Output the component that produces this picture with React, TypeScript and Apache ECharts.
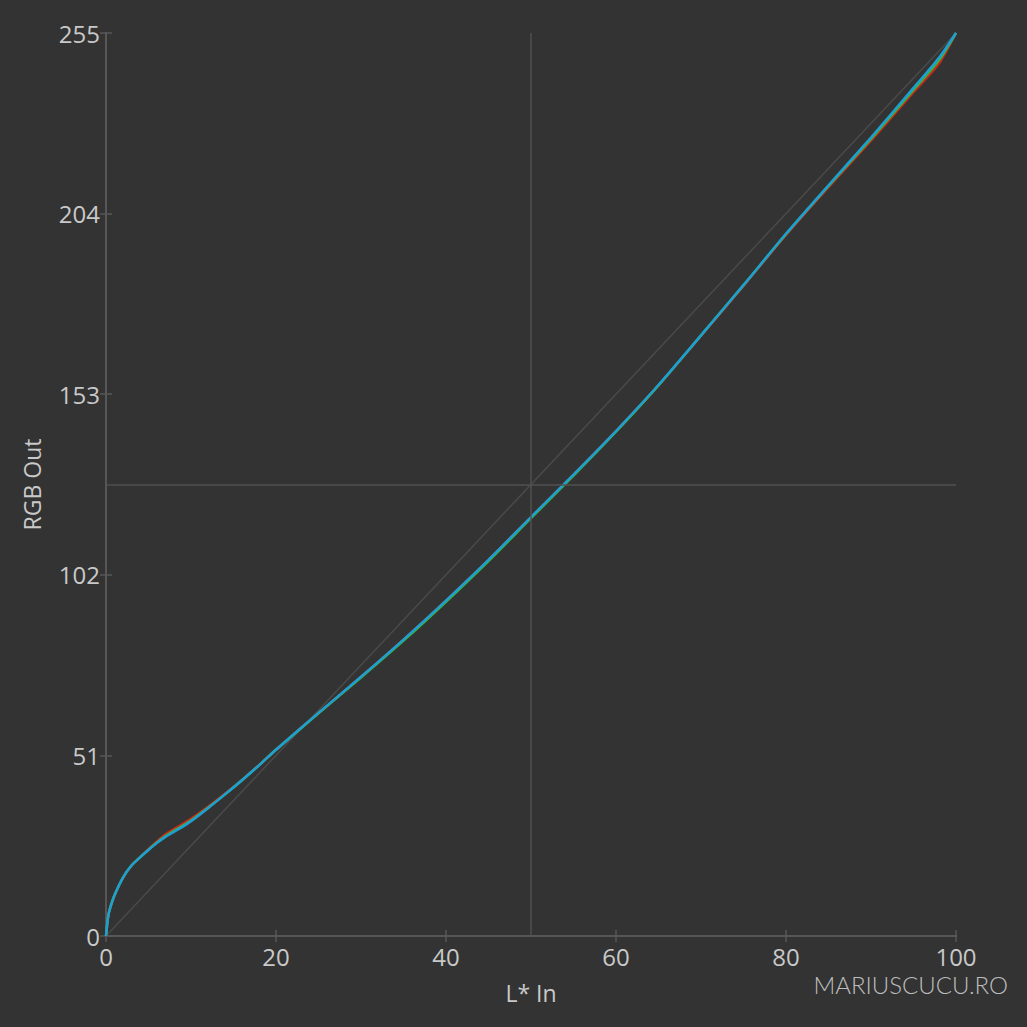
import { useEffect, useRef } from 'react'
import * as echarts from 'echarts'

// L* input values where the curves were read
const lightness = [0, 0.25, 0.5, 1, 2, 3, 4, 5, 6, 7, 8, 9, 10, 12, 14, 16, 18, 20, 25, 30, 35, 40, 45, 50, 55, 60, 65, 70, 75, 80, 85, 90, 95, 98, 100]

// RGB output per channel
const redOut = [0, 5.5, 8, 11.5, 16.5, 19.9, 22.3, 24.5, 26.7, 28.7, 30.2, 31.6, 33.1, 36.5, 40.2, 44.1, 48.3, 52.6, 63, 73.2, 83.7, 94.7, 106.2, 118.3, 130.3, 142.6, 155.5, 169.5, 183.6, 198, 211.5, 224.6, 238.3, 246.4, 255]
const greenOut = [0, 5.5, 8, 11.5, 16.5, 19.9, 22.2, 24.4, 26.4, 28.2, 29.7, 31.1, 32.6, 36.2, 40, 44, 48.2, 52.6, 62.9, 73, 83.4, 94.4, 105.9, 118, 130, 142.4, 155.5, 169.6, 183.8, 198.2, 211.8, 225.1, 238.9, 247.3, 255]
const blueOut = [0, 5.5, 8, 11.5, 16.5, 19.9, 22.2, 24.3, 26.3, 28, 29.4, 30.8, 32.4, 36.1, 40, 44, 48.2, 52.6, 63, 73.2, 83.7, 94.7, 106.2, 118.3, 130.3, 142.6, 155.6, 169.6, 183.8, 198.3, 212, 225.5, 239.5, 248, 255]

const xTicks = [0, 20, 40, 60, 80, 100]
const yTicks = [0, 51, 102, 153, 204, 255]

const BG = '#333333'
const FRAME = '#575757'
const LABEL = '#c9c9c9'

export default function App() {
  const ref = useRef<HTMLDivElement>(null)

  useEffect(() => {
    if (!ref.current) return
    const chart = echarts.init(ref.current, undefined, { renderer: 'svg' })

    const pair = (ys: number[]) => lightness.map((x, i) => [x, ys[i]])
    const labelStyle = { color: LABEL, fontSize: 24, fontFamily: 'Open Sans' }
    const nameStyle = { color: LABEL, fontSize: 23, fontFamily: 'Open Sans' }
    const tickStyle = { show: true, inside: true, length: 6, lineStyle: { color: FRAME, width: 1.5 } }

    const curve = (name: string, ys: number[], color: string, z: number) => ({
      name,
      type: 'line' as const,
      data: pair(ys),
      smooth: 0.25,
      showSymbol: false,
      z,
      lineStyle: { color, width: 2.5 },
    })

    chart.setOption({
      animation: false,
      backgroundColor: BG,
      grid: { left: 106, right: 71, top: 33, bottom: 91 },
      xAxis: [
        {
          type: 'value',
          min: xTicks[0],
          max: xTicks[xTicks.length - 1],
          interval: 20,
          name: 'L* In',
          nameLocation: 'middle',
          nameGap: 45,
          nameTextStyle: nameStyle,
          axisLine: { show: true, lineStyle: { color: FRAME, width: 2 } },
          axisTick: tickStyle,
          axisLabel: { ...labelStyle, margin: 8 },
          splitLine: { show: false },
        },
        {
          type: 'value',
          position: 'top',
          min: 0,
          max: 100,
          interval: 20,
          axisLine: { show: true, lineStyle: { color: FRAME, width: 2 } },
          axisTick: tickStyle,
          axisLabel: { show: false },
          splitLine: { show: false },
        },
      ],
      yAxis: [
        {
          type: 'value',
          min: yTicks[0],
          max: yTicks[yTicks.length - 1],
          interval: 51,
          name: 'RGB Out',
          nameLocation: 'middle',
          nameGap: 63,
          nameTextStyle: nameStyle,
          axisLine: { show: true, lineStyle: { color: FRAME, width: 2 } },
          axisTick: tickStyle,
          axisLabel: { ...labelStyle, margin: 6 },
          splitLine: { show: false },
        },
        {
          type: 'value',
          position: 'right',
          min: 0,
          max: 255,
          interval: 51,
          axisLine: { show: true, lineStyle: { color: FRAME, width: 2 } },
          axisTick: tickStyle,
          axisLabel: { show: false },
          splitLine: { show: false },
        },
      ],
      graphic: [
        {
          type: 'text',
          right: 19,
          top: 972,
          style: {
            text: 'MARIUSCUCU.RO',
            fill: '#bdbdbd',
            font: '300 24px Lato',
          },
        },
      ],
      series: [
        {
          name: 'reference',
          type: 'line',
          data: [[0, 0], [100, 255]],
          showSymbol: false,
          z: 1,
          lineStyle: { color: '#4a4a4a', width: 1.5 },
          markLine: {
            silent: true,
            symbol: 'none',
            label: { show: false },
            lineStyle: { color: '#505050', width: 1.5, type: 'solid' },
            data: [{ xAxis: 50 }, { yAxis: 127.5 }],
          },
        },
        curve('R', redOut, '#c8261e', 2),
        curve('G', greenOut, '#3cb431', 3),
        curve('B', blueOut, '#1c9fd4', 4),
      ],
    })

    return () => chart.dispose()
  }, [])

  return (
    <div
      ref={ref}
      style={{ position: 'fixed', left: 0, top: 0, width: 1027, height: 1027, background: BG }}
    />
  )
}
